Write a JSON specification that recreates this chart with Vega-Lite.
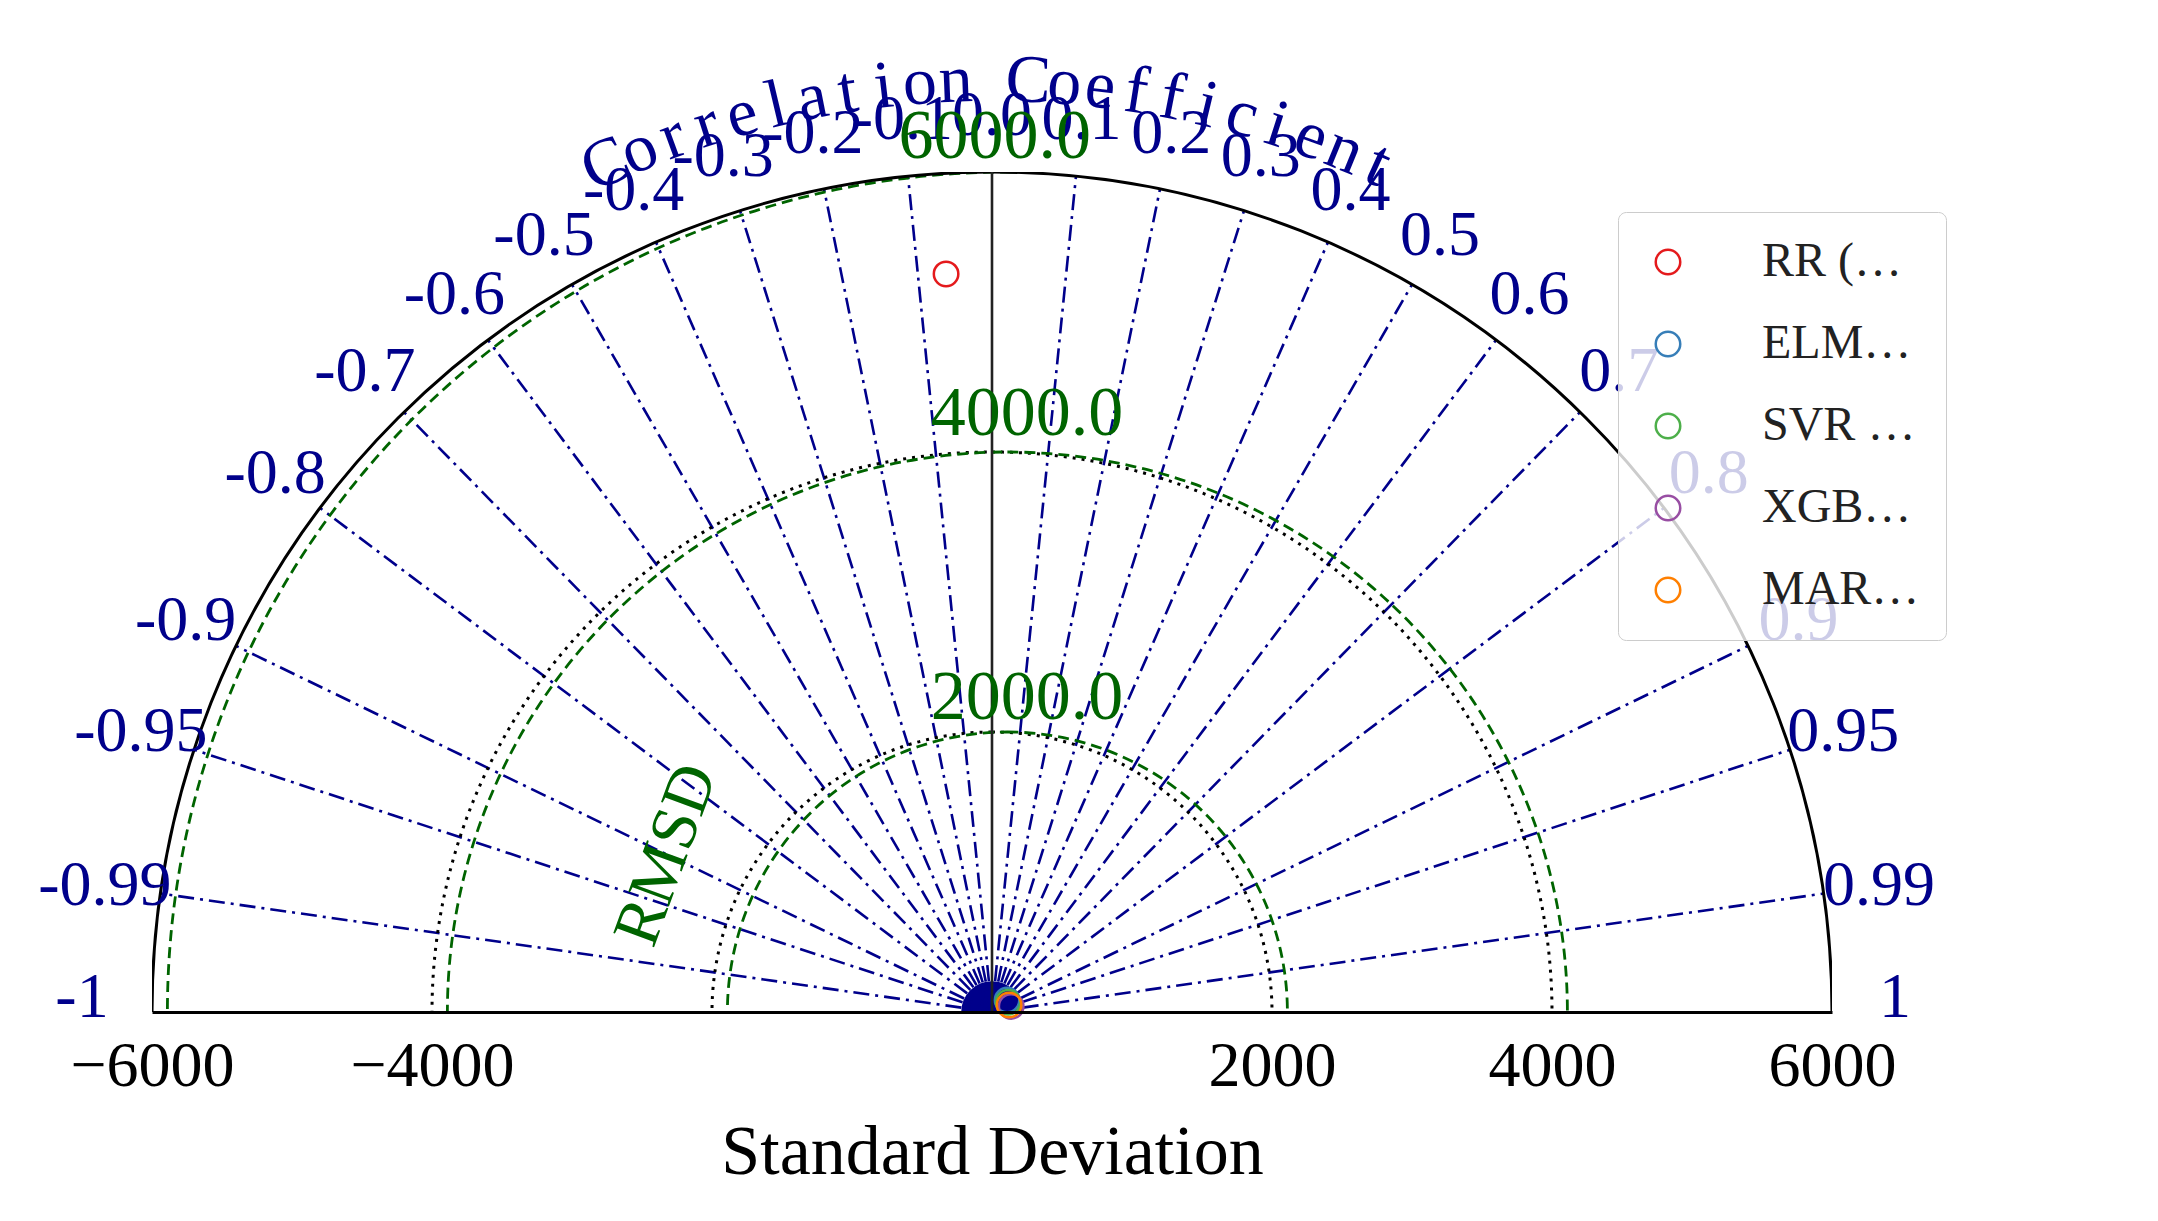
{
  "$schema": "https://vega.github.io/schema/vega-lite/v6.json",
  "width": 1680,
  "height": 840,
  "autosize": "none",
  "padding": {"left": 152, "top": 172, "right": 326, "bottom": 209},
  "background": "white",
  "config": {
    "view": {"stroke": null},
    "font": "Liberation Serif",
    "legend": {
      "orient": "none", "legendX": 1466, "legendY": 40,
      "labelFont": "Liberation Serif", "labelFontSize": 48, "labelColor": "#222",
      "symbolSize": 600, "symbolStrokeWidth": 2.5, "symbolType": "circle",
      "symbolFillColor": "transparent",
      "labelOffset": 70, "rowPadding": 34, "padding": 26,
      "strokeColor": "#ccc", "fillColor": "rgba(255,255,255,0.8)", "cornerRadius": 8
    }
  },
  "datasets": {
    "models": [
      {"model": "RR (S07)", "x": -328, "y": 5272},
      {"model": "ELM (S07)", "x": 108, "y": 86},
      {"model": "SVR (S07)", "x": 115, "y": 70},
      {"model": "XGB (S07)", "x": 137, "y": 40},
      {"model": "MARS (S07)", "x": 122, "y": 50}
    ],
    "corr": [
      {"r": "0.1", "x": 600, "y": 5970}, {"r": "0.2", "x": 1200, "y": 5879},
      {"r": "0.3", "x": 1800, "y": 5724}, {"r": "0.4", "x": 2400, "y": 5499},
      {"r": "0.5", "x": 3000, "y": 5196}, {"r": "0.6", "x": 3600, "y": 4800},
      {"r": "0.7", "x": 4200, "y": 4285}, {"r": "0.8", "x": 4800, "y": 3600},
      {"r": "0.9", "x": 5400, "y": 2615}, {"r": "0.95", "x": 5700, "y": 1873},
      {"r": "0.99", "x": 5940, "y": 846},
      {"r": "-0.1", "x": -600, "y": 5970}, {"r": "-0.2", "x": -1200, "y": 5879},
      {"r": "-0.3", "x": -1800, "y": 5724}, {"r": "-0.4", "x": -2400, "y": 5499},
      {"r": "-0.5", "x": -3000, "y": 5196}, {"r": "-0.6", "x": -3600, "y": 4800},
      {"r": "-0.7", "x": -4200, "y": 4285}, {"r": "-0.8", "x": -4800, "y": 3600},
      {"r": "-0.9", "x": -5400, "y": 2615}, {"r": "-0.95", "x": -5700, "y": 1873},
      {"r": "-0.99", "x": -5940, "y": 846}
    ],
    "corrLabels": [
      {"t": "0.0", "x": 0, "y": 6400},
      {"t": "0.1", "x": 640, "y": 6368}, {"t": "0.2", "x": 1280, "y": 6271},
      {"t": "0.3", "x": 1920, "y": 6106}, {"t": "0.4", "x": 2560, "y": 5866},
      {"t": "0.5", "x": 3200, "y": 5543}, {"t": "0.6", "x": 3840, "y": 5120},
      {"t": "0.7", "x": 4480, "y": 4571}, {"t": "0.8", "x": 5120, "y": 3840},
      {"t": "0.9", "x": 5760, "y": 2790}, {"t": "0.95", "x": 6080, "y": 1998},
      {"t": "0.99", "x": 6336, "y": 902}, {"t": "1", "x": 6450, "y": 100},
      {"t": "-0.1", "x": -640, "y": 6368}, {"t": "-0.2", "x": -1280, "y": 6271},
      {"t": "-0.3", "x": -1920, "y": 6106}, {"t": "-0.4", "x": -2560, "y": 5866},
      {"t": "-0.5", "x": -3200, "y": 5543}, {"t": "-0.6", "x": -3840, "y": 5120},
      {"t": "-0.7", "x": -4480, "y": 4571}, {"t": "-0.8", "x": -5120, "y": 3840},
      {"t": "-0.9", "x": -5760, "y": 2790}, {"t": "-0.95", "x": -6080, "y": 1998},
      {"t": "-0.99", "x": -6336, "y": 902}, {"t": "-1", "x": -6500, "y": 100}
    ],
    "titleChars": [
      {"c": "C", "x": -2758, "y": 6051, "a": -24.5}, {"c": "o", "x": -2520, "y": 6154, "a": -22.27},
      {"c": "r", "x": -2280, "y": 6247, "a": -20.05}, {"c": "r", "x": -2036, "y": 6331, "a": -17.82},
      {"c": "e", "x": -1787, "y": 6405, "a": -15.59}, {"c": "l", "x": -1538, "y": 6470, "a": -13.37},
      {"c": "a", "x": -1285, "y": 6525, "a": -11.14}, {"c": "t", "x": -1030, "y": 6570, "a": -8.91},
      {"c": "i", "x": -774, "y": 6605, "a": -6.68}, {"c": "o", "x": -517, "y": 6630, "a": -4.46},
      {"c": "n", "x": -259, "y": 6645, "a": -2.23},
      {"c": "C", "x": 259, "y": 6645, "a": 2.23}, {"c": "o", "x": 517, "y": 6630, "a": 4.46},
      {"c": "e", "x": 774, "y": 6605, "a": 6.68}, {"c": "f", "x": 1030, "y": 6570, "a": 8.91},
      {"c": "f", "x": 1285, "y": 6525, "a": 11.14}, {"c": "i", "x": 1538, "y": 6470, "a": 13.37},
      {"c": "c", "x": 1787, "y": 6405, "a": 15.59}, {"c": "i", "x": 2036, "y": 6331, "a": 17.82},
      {"c": "e", "x": 2280, "y": 6247, "a": 20.05}, {"c": "n", "x": 2520, "y": 6154, "a": 22.27},
      {"c": "t", "x": 2758, "y": 6051, "a": 24.5}
    ]
  },
  "encoding": {
    "x": {
      "field": "x", "type": "quantitative",
      "scale": {"domain": [-6000, 6000], "nice": false, "zero": false},
      "axis": {
        "values": [-6000, -4000, 2000, 4000, 6000], "format": "d", "grid": false,
        "ticks": false, "domainColor": "black", "domainWidth": 3, "zindex": 1,
        "labelFont": "Liberation Serif", "labelFontSize": 64, "labelColor": "black",
        "labelPadding": 22, "labelFlush": false,
        "title": "Standard Deviation", "titleFont": "Liberation Serif", "titleFontSize": 70,
        "titleFontWeight": "normal", "titleColor": "black", "titlePadding": 20
      }
    },
    "y": {
      "field": "y", "type": "quantitative",
      "scale": {"domain": [0, 6000], "nice": false},
      "axis": null
    }
  },
  "layer": [
    {
      "data": {"values": [{"x": 0, "y": 0, "r": 220}]},
      "mark": {"type": "arc", "fill": "#00008B", "clip": true, "theta": 0, "theta2": 6.2832},
      "encoding": {"radius": {"field": "r", "type": "quantitative", "stack": null, "scale": {"type": "linear", "domain": [0, 6000], "range": [0, 840], "zero": true}}}
    },
    {
      "data": {"name": "corr"},
      "mark": {"type": "rule", "color": "#00008B", "strokeWidth": 2.6, "strokeDash": [16, 6, 3, 6]},
      "encoding": {"x": {"datum": 0, "type": "quantitative"}, "y": {"datum": 0, "type": "quantitative"}, "x2": {"field": "x"}, "y2": {"field": "y"}}
    },
    {
      "data": {"values": [{"x": 0, "y": 0, "r": 2000}, {"x": 0, "y": 0, "r": 4000}]},
      "mark": {"type": "arc", "filled": false, "stroke": "black", "strokeWidth": 3, "strokeDash": [3, 6], "clip": true, "theta": 0, "theta2": 6.2832},
      "encoding": {"radius": {"field": "r", "type": "quantitative", "stack": null, "scale": {"type": "linear", "domain": [0, 6000], "range": [0, 840], "zero": true}}}
    },
    {
      "data": {"values": [{"x": 110, "y": 0, "r": 2000}, {"x": 110, "y": 0, "r": 4000}, {"x": 110, "y": 0, "r": 6000}]},
      "mark": {"type": "arc", "filled": false, "stroke": "#006400", "strokeWidth": 2.8, "strokeDash": [11, 6], "clip": true, "theta": 0, "theta2": 6.2832},
      "encoding": {"radius": {"field": "r", "type": "quantitative", "stack": null, "scale": {"type": "linear", "domain": [0, 6000], "range": [0, 840], "zero": true}}}
    },
    {
      "data": {"values": [{"x": 0, "y": 0, "r": 6000, "r2": 7600}]},
      "mark": {"type": "arc", "fill": "white", "theta": -1.5708, "theta2": 1.5708},
      "encoding": {
        "radius": {"field": "r2", "type": "quantitative", "stack": null, "scale": {"type": "linear", "domain": [0, 6000], "range": [0, 840], "zero": true}},
        "radius2": {"field": "r"}
      }
    },
    {
      "data": {"values": [{"x": 0, "y": 0, "r": 6000}]},
      "mark": {"type": "arc", "filled": false, "stroke": "black", "strokeWidth": 3, "clip": true, "theta": 0, "theta2": 6.2832},
      "encoding": {"radius": {"field": "r", "type": "quantitative", "stack": null, "scale": {"type": "linear", "domain": [0, 6000], "range": [0, 840], "zero": true}}}
    },
    {
      "data": {"values": [{"x": 0, "y": 0, "y2": 6000}]},
      "mark": {"type": "rule", "color": "#222", "strokeWidth": 2.6},
      "encoding": {"y2": {"field": "y2"}}
    },
    {
      "data": {"name": "corrLabels"},
      "mark": {"type": "text", "color": "#00008B", "font": "Liberation Serif", "fontSize": 64, "align": "center", "baseline": "middle"},
      "encoding": {"text": {"field": "t"}}
    },
    {
      "data": {"name": "titleChars"},
      "mark": {"type": "text", "color": "#00008B", "font": "Liberation Serif", "fontSize": 68, "align": "center", "baseline": "middle"},
      "encoding": {"text": {"field": "c"}, "angle": {"field": "a", "type": "quantitative", "scale": null}}
    },
    {
      "data": {"values": [{"t": "2000.0", "x": 250, "y": 2245}, {"t": "4000.0", "x": 250, "y": 4270}, {"t": "6000.0", "x": 20, "y": 6250}]},
      "mark": {"type": "text", "color": "#006400", "font": "Liberation Serif", "fontSize": 70, "align": "center", "baseline": "middle"},
      "encoding": {"text": {"field": "t"}}
    },
    {
      "data": {"values": [{"t": "RMSD", "x": -2325, "y": 1123}]},
      "mark": {"type": "text", "color": "#006400", "font": "Liberation Serif", "fontSize": 66, "align": "center", "baseline": "middle", "angle": 290},
      "encoding": {"text": {"field": "t"}}
    },
    {
      "data": {"name": "models"},
      "mark": {"type": "point", "shape": "circle", "filled": false, "size": 600, "strokeWidth": 2.5, "opacity": 1},
      "encoding": {
        "color": {
          "field": "model", "type": "nominal",
          "scale": {"domain": ["RR (S07)", "ELM (S07)", "SVR (S07)", "XGB (S07)", "MARS (S07)"], "range": ["#e41a1c", "#377eb8", "#4daf4a", "#984ea3", "#ff7f00"]},
          "legend": {"title": null}
        }
      }
    }
  ]
}
